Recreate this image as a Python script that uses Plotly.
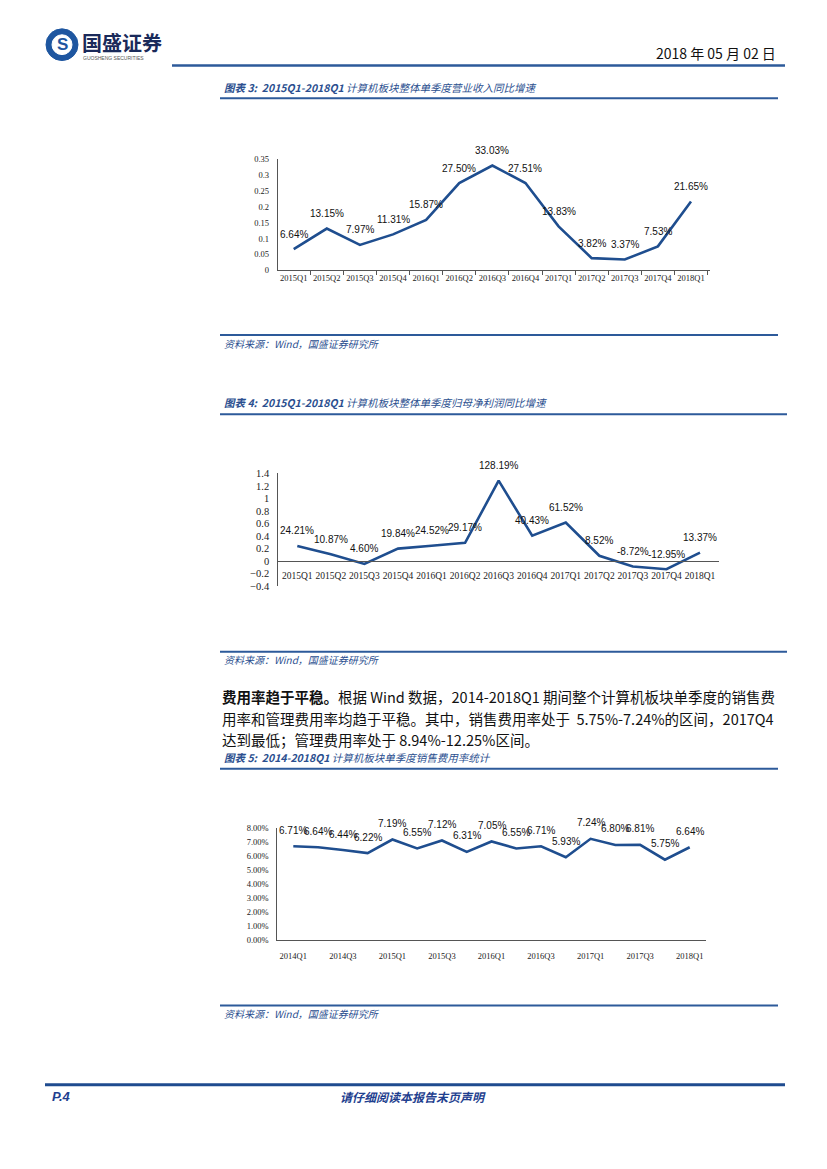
import plotly.graph_objects as go

PAGE_W, PAGE_H = 827, 1169
M = 8  # default body margin of the html page
W, H = PAGE_W - 2 * M, PAGE_H - 2 * M

# ---------------- data ----------------
cats1 = ["2015Q1", "2015Q2", "2015Q3", "2015Q4", "2016Q1", "2016Q2", "2016Q3",
         "2016Q4", "2017Q1", "2017Q2", "2017Q3", "2017Q4", "2018Q1"]
rev_growth = [0.0664, 0.1315, 0.0797, 0.1131, 0.1587, 0.2750, 0.3303,
              0.2751, 0.1383, 0.0382, 0.0337, 0.0753, 0.2165]

cats2 = ["2015Q1", "2015Q2", "2015Q3", "2015Q4", "2016Q1", "2016Q2", "2016Q3",
         "2016Q4", "2017Q1", "2017Q2", "2017Q3", "2017Q4", "2018Q1"]
profit_growth = [0.2421, 0.1087, -0.0460, 0.1984, 0.2452, 0.2917, 1.2819,
                 0.4043, 0.6152, 0.0852, -0.0872, -0.1295, 0.1337]
profit_labels = ["24.21%", "10.87%", "4.60%", "19.84%", "24.52%", "29.17%", "128.19%",
                 "40.43%", "61.52%", "8.52%", "-8.72%", "-12.95%", "13.37%"]

cats3 = ["2014Q1", "2014Q2", "2014Q3", "2014Q4", "2015Q1", "2015Q2", "2015Q3", "2015Q4",
         "2016Q1", "2016Q2", "2016Q3", "2016Q4", "2017Q1", "2017Q2", "2017Q3", "2017Q4",
         "2018Q1"]
sales_rate = [0.0671, 0.0664, 0.0644, 0.0622, 0.0719, 0.0655, 0.0712, 0.0631,
              0.0705, 0.0655, 0.0671, 0.0593, 0.0724, 0.0680, 0.0681, 0.0575, 0.0664]
tick3 = cats3[::2]

# ---------------- helpers (page pixel -> paper) ----------------
def px(x):
    return (x - M) / W

def py(y):
    return 1 - (y - M) / H

BLUE = "#1f4e8f"
TXTBLUE = "#2b4f8f"
LINEBLUE = "#2d5a9a"

fig = go.Figure()

fig.add_trace(go.Scatter(x=cats1, y=rev_growth, mode="lines",
                         line=dict(color=BLUE, width=2.6), xaxis="x", yaxis="y",
                         showlegend=False, hoverinfo="skip"))
fig.add_trace(go.Scatter(x=cats2, y=profit_growth, mode="lines",
                         line=dict(color=BLUE, width=2.6), xaxis="x2", yaxis="y2",
                         showlegend=False, hoverinfo="skip"))
fig.add_trace(go.Scatter(x=cats3, y=sales_rate, mode="lines",
                         line=dict(color=BLUE, width=2.6), xaxis="x3", yaxis="y3",
                         showlegend=False, hoverinfo="skip"))

annotations = []

for c, v in zip(cats1, rev_growth):
    annotations.append(dict(x=c, y=v, xref="x", yref="y", text=f"{v*100:.2f}%",
                            showarrow=False, yshift=15,
                            font=dict(family="Liberation Sans", size=10, color="#111")))
for c, v, t in zip(cats2, profit_growth, profit_labels):
    annotations.append(dict(x=c, y=v, xref="x2", yref="y2", text=t,
                            showarrow=False, yshift=15,
                            font=dict(family="Liberation Sans", size=10, color="#111")))
for c, v in zip(cats3, sales_rate):
    annotations.append(dict(x=c, y=v, xref="x3", yref="y3", text=f"{v*100:.2f}%",
                            showarrow=False, yshift=16,
                            font=dict(family="Liberation Sans", size=10, color="#111")))

c1 = dict(x0=277.7, x1=710.0, ybot=267.7, ytop=155.7)
c2 = dict(x0=278.3, x1=719.0, ybot=586.7, ytop=472.7)
c3 = dict(x0=277.3, x1=705.7, ybot=944.3, ytop=831.0)

tickfont_s = dict(family="Liberation Serif", size=8.5, color="#222")
tickfont_x2 = dict(family="Liberation Serif", size=9.5, color="#222")
tickfont_y2 = dict(family="Liberation Serif", size=10.5, color="#222")

fig.update_layout(
    width=W, height=H, margin=dict(l=0, r=0, t=0, b=0),
    paper_bgcolor="white", plot_bgcolor="white", showlegend=False,
    xaxis=dict(domain=[px(c1["x0"]), px(c1["x1"])], anchor="y", type="category",
               showline=True, linecolor="#555", linewidth=1, ticks="outside",
               tickson="boundaries", ticklen=4, tickcolor="#555", tickangle=0,
               showgrid=False, zeroline=False, tickfont=tickfont_s),
    yaxis=dict(domain=[py(c1["ybot"]), py(c1["ytop"])], anchor="x", range=[0, 0.35],
               dtick=0.05, showline=True, linecolor="#555", linewidth=1,
               showgrid=False, zeroline=False, ticks="", ticklabelstandoff=6,
               tickfont=tickfont_s),
    xaxis2=dict(domain=[px(c2["x0"]), px(c2["x1"])], anchor="free",
                position=py(c2["ybot"] - 0.4 / 1.8 * (c2["ybot"] - c2["ytop"])),
                type="category", showline=True, linecolor="#555", linewidth=1,
                ticks="", ticklabelstandoff=6, showgrid=False, zeroline=False,
                tickangle=0, tickfont=tickfont_x2),
    yaxis2=dict(domain=[py(c2["ybot"]), py(c2["ytop"])], anchor="x2", range=[-0.4, 1.4],
                dtick=0.2, showline=True, linecolor="#555", linewidth=1,
                showgrid=False, zeroline=False, ticks="", ticklabelstandoff=6,
                tickfont=tickfont_y2),
    xaxis3=dict(domain=[px(c3["x0"]), px(c3["x1"])], anchor="y3", type="category",
                tickmode="array", tickvals=tick3, ticktext=tick3, tickangle=0,
                showline=True, linecolor="#555", linewidth=1, ticks="",
                ticklabelstandoff=7, showgrid=False, zeroline=False, tickfont=tickfont_s),
    yaxis3=dict(domain=[py(c3["ybot"]), py(c3["ytop"])], anchor="x3", range=[0, 0.08],
                dtick=0.01, tickformat=".2%", showline=True, linecolor="#555",
                linewidth=1, showgrid=False, zeroline=False, ticks="",
                ticklabelstandoff=6, tickfont=tickfont_s),
)

shapes = []

def hline(x0, x1, y, width=2, color=LINEBLUE):
    shapes.append(dict(type="line", xref="paper", yref="paper",
                       x0=px(x0), x1=px(x1), y0=py(y), y1=py(y),
                       line=dict(color=color, width=width)))

hline(172, 785, 61, 2.5)
hline(220, 778, 94, 2)
hline(220, 778, 333, 2)
hline(220, 787, 413, 2)
hline(220, 787, 653, 2)
hline(220, 778, 771, 2)
hline(220, 778, 1010, 2)
hline(45, 785, 1090, 3, "#1f4b8f")

shapes.append(dict(type="circle", xref="paper", yref="paper",
                   x0=px(46), x1=px(78), y0=py(56), y1=py(24),
                   fillcolor="#1e56a0", line=dict(color="#1e56a0", width=1)))
shapes.append(dict(type="circle", xref="paper", yref="paper",
                   x0=px(52), x1=px(72), y0=py(50), y1=py(30),
                   fillcolor="white", line=dict(color="white", width=1)))

def text(x, y, t, size, color="#111", family="Noto Sans CJK SC", xanchor="left",
         italic=False, bold=False):
    if bold:
        t = f"<b>{t}</b>"
    if italic:
        t = f"<i>{t}</i>"
    annotations.append(dict(x=px(x), y=py(y), xref="paper", yref="paper", text=t,
                            showarrow=False, xanchor=xanchor, yanchor="middle",
                            font=dict(family=family, size=size, color=color)))

text(62, 40, "S", 17, "#1e56a0", "Liberation Sans", "center", bold=True)
text(80, 38, "国盛证券", 20, "#1a2a5a", bold=True)
text(81, 53, "GUOSHENG SECURITIES", 5, "#555", "Liberation Sans")
text(778, 48, "2018 年 05 月 02 日", 14, "#111", xanchor="right")

text(222, 83, "<b>图表 3:  2015Q1-2018Q1</b> 计算机板块整体单季度营业收入同比增速", 10.5, TXTBLUE, italic=True)
text(222, 342, "资料来源：Wind，国盛证券研究所", 10, TXTBLUE, italic=True)
text(222, 401, "<b>图表 4:  2015Q1-2018Q1</b> 计算机板块整体单季度归母净利润同比增速", 10.5, TXTBLUE, italic=True)
text(222, 661, "资料来源：Wind，国盛证券研究所", 10, TXTBLUE, italic=True)

text(220, 698, "<b>费用率趋于平稳。</b>根据 Wind 数据，2014-2018Q1 期间整个计算机板块单季度的销售费", 14.5)
text(220, 720, "用率和管理费用率均趋于平稳。其中，销售费用率处于  5.75%-7.24%的区间，2017Q4", 14.5)
text(220, 741, "达到最低；管理费用率处于 8.94%-12.25%区间。", 14.5)

text(222, 760, "<b>图表 5:  2014-2018Q1</b> 计算机板块单季度销售费用率统计", 10.5, TXTBLUE, italic=True)
text(222, 1018, "资料来源：Wind，国盛证券研究所", 10, TXTBLUE, italic=True)

text(50, 1102, "P.4", 13, "#1f3f8f", "Liberation Sans", bold=True, italic=True)
text(413, 1102, "请仔细阅读本报告末页声明", 12, "#1f3f8f", xanchor="center", bold=True, italic=True)

fig.update_layout(shapes=shapes, annotations=annotations)

fig.write_html("out.html")
